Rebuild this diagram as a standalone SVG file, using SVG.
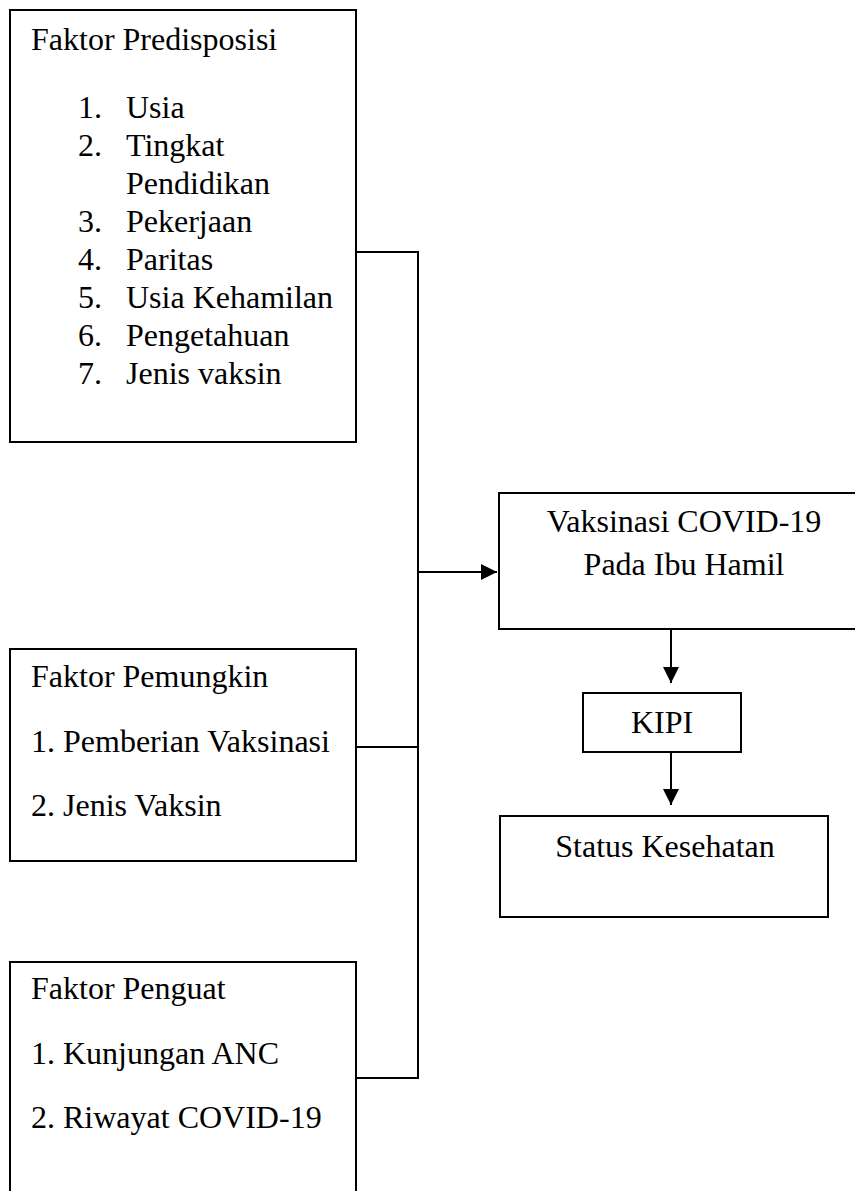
<svg xmlns="http://www.w3.org/2000/svg" width="855" height="1191" viewBox="0 0 855 1191">
<style>
  .box { fill: #ffffff; stroke: #000000; stroke-width: 2; }
  .t { font-family: "Liberation Serif", "Times New Roman", serif; font-size: 32px; fill: #000000; }
  .c { text-anchor: middle; }
  .ln { fill: none; stroke: #000000; stroke-width: 2; }
</style>
<defs>
  <marker id="arr" viewBox="0 0 16 16" refX="16" refY="8" markerWidth="16" markerHeight="16" markerUnits="userSpaceOnUse" orient="auto">
    <path d="M0,0 L16,8 L0,16 Z" fill="#000000"/>
  </marker>
</defs>
<rect width="855" height="1191" fill="#ffffff"/>

<g id="node-predisposisi">
  <rect class="box" x="10" y="10" width="346" height="432"/>
  <text class="t" x="31" y="50">Faktor Predisposisi</text>
  <text class="t" x="78" y="118">1.</text><text class="t" x="126" y="118">Usia</text>
  <text class="t" x="78" y="156">2.</text><text class="t" x="126" y="156">Tingkat</text>
  <text class="t" x="126" y="194">Pendidikan</text>
  <text class="t" x="78" y="232">3.</text><text class="t" x="126" y="232">Pekerjaan</text>
  <text class="t" x="78" y="270">4.</text><text class="t" x="126" y="270">Paritas</text>
  <text class="t" x="78" y="308">5.</text><text class="t" x="126" y="308">Usia Kehamilan</text>
  <text class="t" x="78" y="346">6.</text><text class="t" x="126" y="346">Pengetahuan</text>
  <text class="t" x="78" y="384">7.</text><text class="t" x="126" y="384">Jenis vaksin</text>
</g>

<g id="node-pemungkin">
  <rect class="box" x="10" y="649" width="346" height="212"/>
  <text class="t" x="31" y="687">Faktor Pemungkin</text>
  <text class="t" x="31" y="752">1. Pemberian Vaksinasi</text>
  <text class="t" x="31" y="816">2. Jenis Vaksin</text>
</g>

<g id="node-penguat">
  <rect class="box" x="10" y="962" width="346" height="260"/>
  <text class="t" x="31" y="999">Faktor Penguat</text>
  <text class="t" x="31" y="1064">1. Kunjungan ANC</text>
  <text class="t" x="31" y="1128">2. Riwayat COVID-19</text>
</g>

<g id="node-vaksinasi">
  <rect class="box" x="499" y="493" width="380" height="136"/>
  <text class="t c" x="684" y="532">Vaksinasi COVID-19</text>
  <text class="t c" x="684" y="575">Pada Ibu Hamil</text>
</g>

<g id="node-kipi">
  <rect class="box" x="583" y="693" width="158" height="59"/>
  <text class="t c" x="662" y="733">KIPI</text>
</g>

<g id="node-status">
  <rect class="box" x="500" y="816" width="328" height="101"/>
  <text class="t c" x="665" y="857">Status Kesehatan</text>
</g>

<g id="connectors">
  <path class="ln" d="M356,252 H418 V1078 H356"/>
  <path class="ln" d="M356,747 H418"/>
  <path class="ln" d="M418,572 H497" marker-end="url(#arr)"/>
  <path class="ln" d="M671,629 V683" marker-end="url(#arr)"/>
  <path class="ln" d="M671,752 V805" marker-end="url(#arr)"/>
</g>
</svg>
